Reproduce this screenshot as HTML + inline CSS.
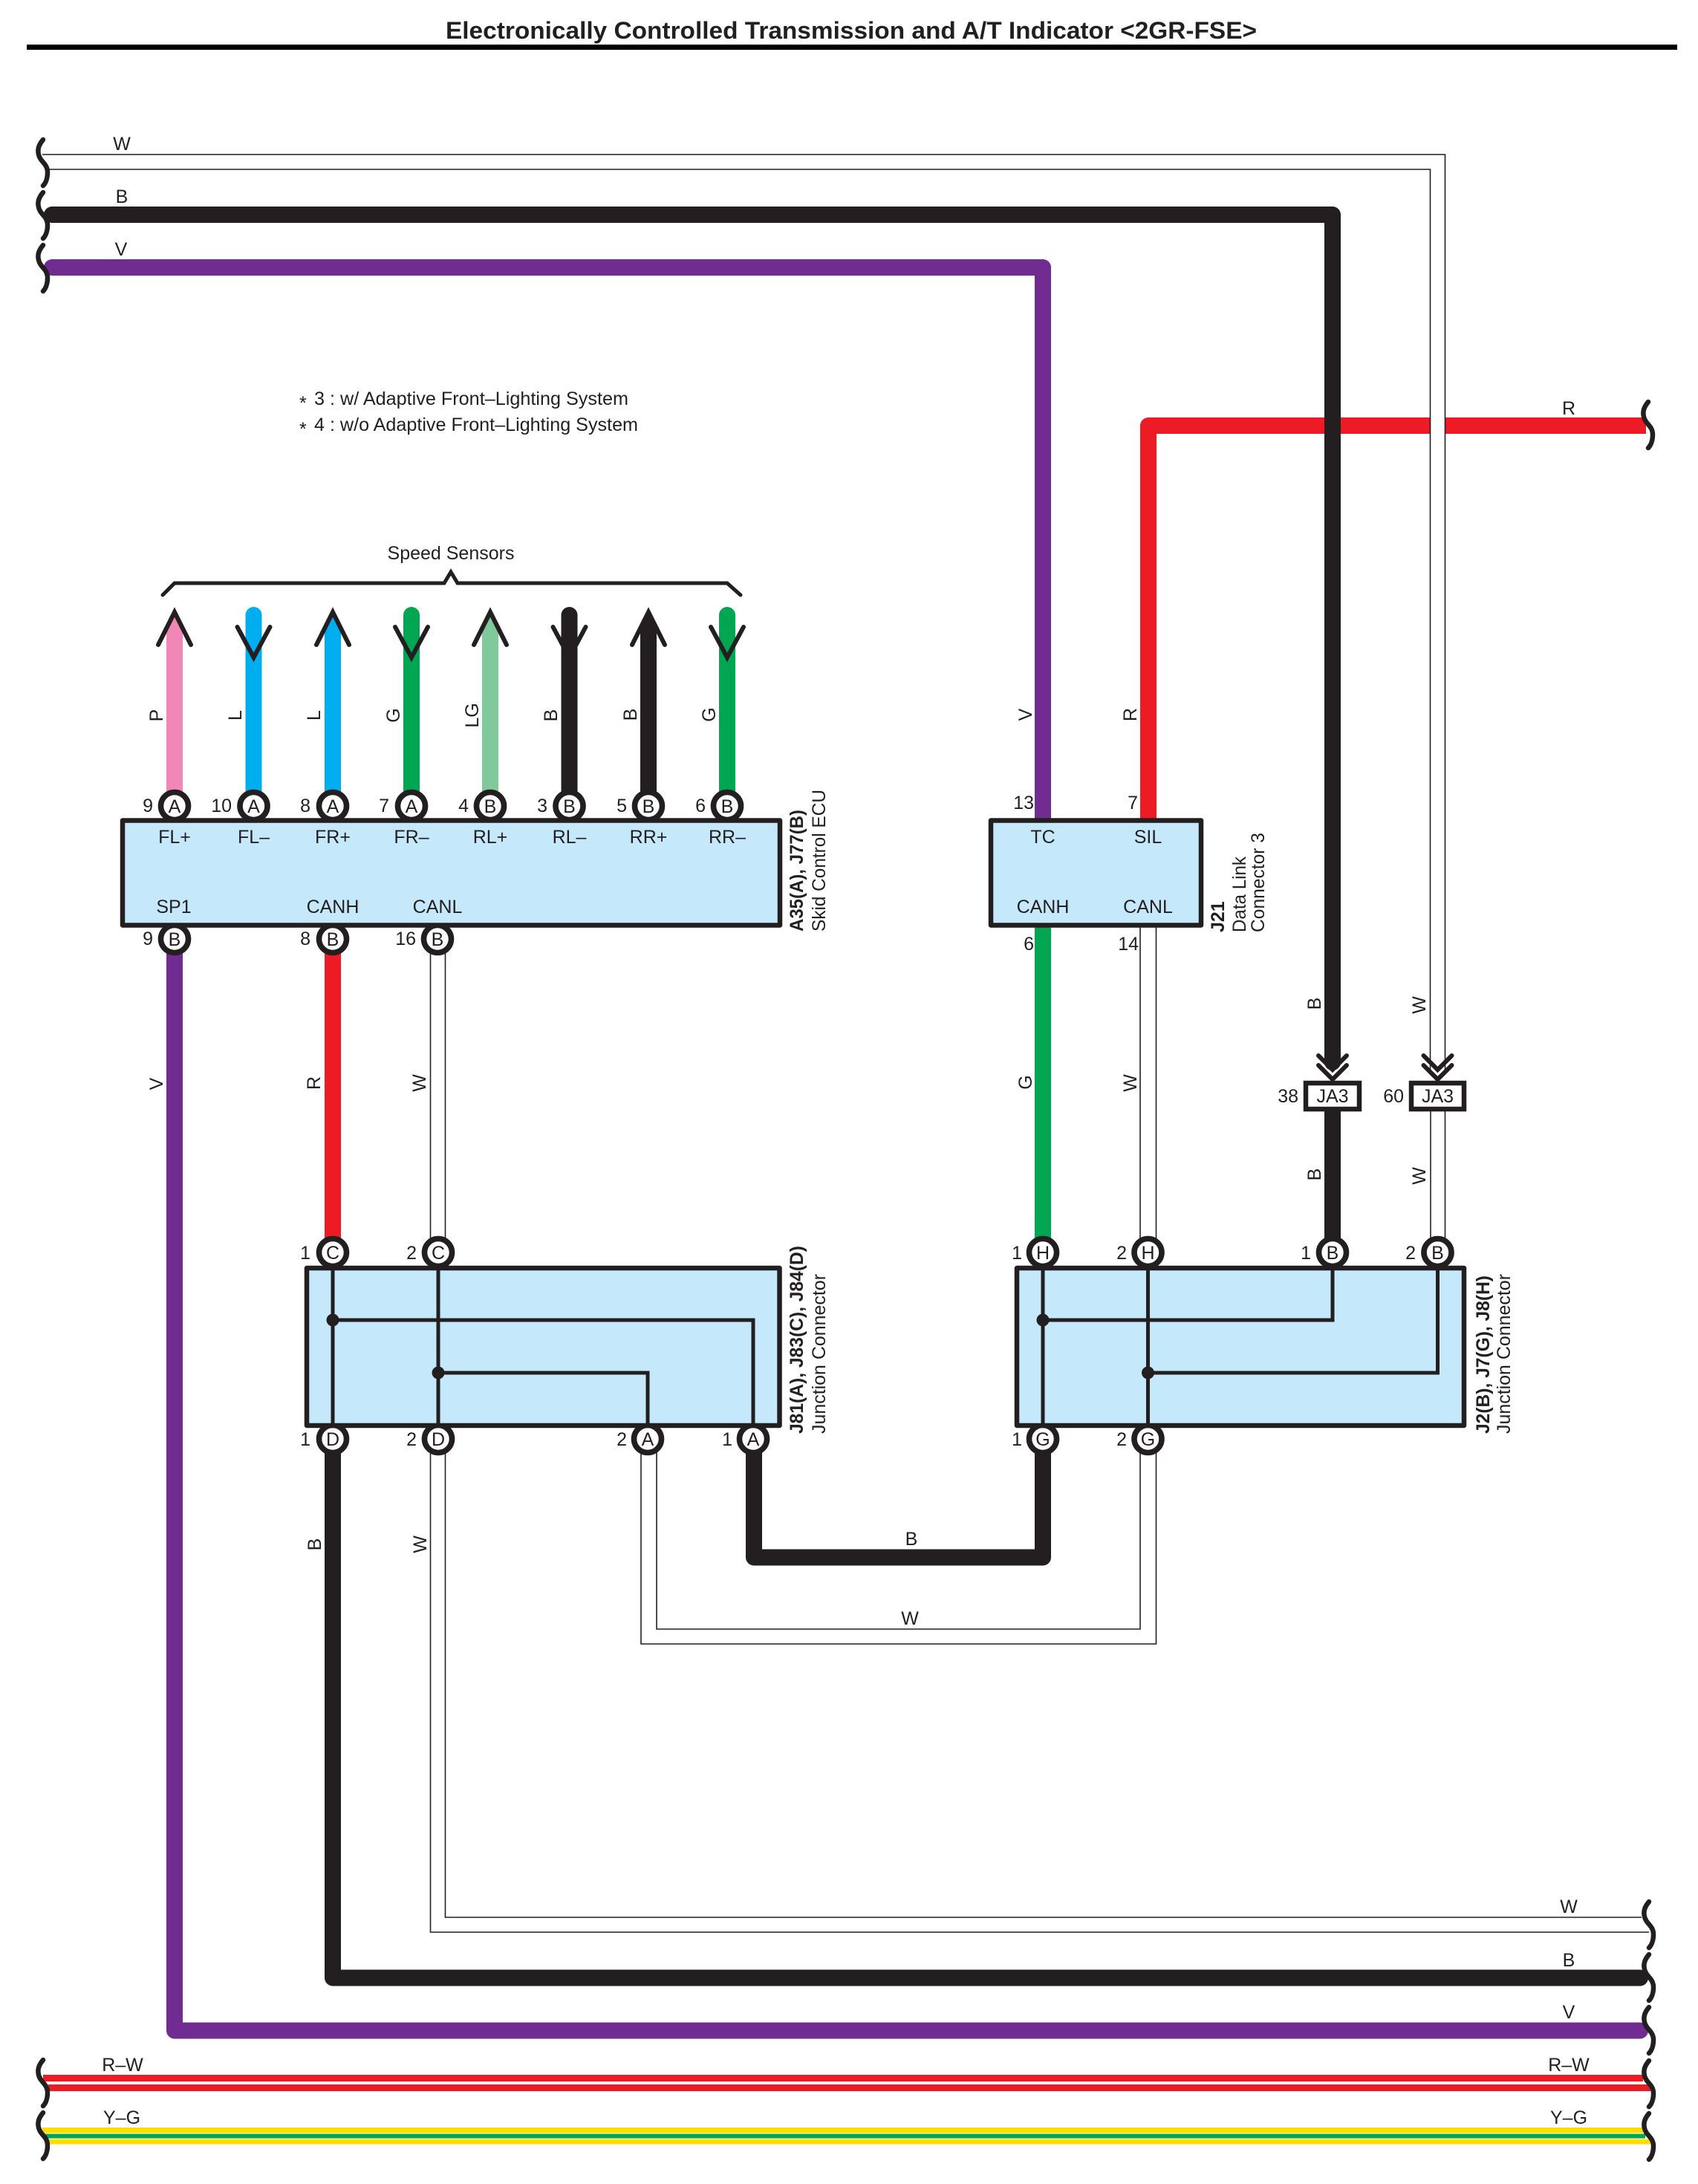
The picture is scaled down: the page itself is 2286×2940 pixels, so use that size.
<!DOCTYPE html>
<html><head><meta charset="utf-8"><title>Electronically Controlled Transmission and A/T Indicator</title>
<style>
html,body{margin:0;padding:0;background:#fff}
svg{display:block}
text{font-family:"Liberation Sans",sans-serif;font-size:25px;fill:#231f20}
.m{text-anchor:middle}.e{text-anchor:end}
.b{font-weight:bold}
.w{fill:none;stroke-linejoin:round;stroke-width:22}
.t{fill:none;stroke:#231f20;stroke-width:1.6}
.h{fill:none;stroke:#fff;stroke-width:19}
.c{fill:#fff;stroke:#231f20;stroke-width:7.6}
.x{fill:#c6e8fb;stroke:#231f20;stroke-width:6.5;stroke-linejoin:round}
.i{fill:none;stroke:#231f20;stroke-width:5}
.a{fill:none;stroke:#231f20;stroke-width:6;stroke-linecap:round;stroke-linejoin:miter;stroke-miterlimit:8}
.q{fill:none;stroke:#231f20;stroke-width:6.5;stroke-linecap:round}
</style></head><body>
<svg xmlns="http://www.w3.org/2000/svg" width="2286" height="2940" viewBox="0 0 2286 2940">
<defs><path id="sq" class="q" d="M58,3 C53,9 50,15 52,23 C54,33 64,35 64,47 C64,54 62,61 58,65"/></defs>
<rect width="2286" height="2940" fill="#fff"/>

<text class="b" x="600" y="52" style="font-size:32px" textLength="1092" lengthAdjust="spacingAndGlyphs">Electronically Controlled Transmission and A/T Indicator &lt;2GR-FSE&gt;</text>
<rect x="36" y="60" width="2222" height="7" fill="#000"/>

<!-- note -->
<text x="403" y="551">*</text>
<text x="423" y="545" textLength="423" lengthAdjust="spacingAndGlyphs">3 : w/ Adaptive Front–Lighting System</text>
<text x="403" y="586">*</text>
<text x="423" y="580" textLength="436" lengthAdjust="spacingAndGlyphs">4 : w/o Adaptive Front–Lighting System</text>

<!-- top wires -->
<path class="w" stroke="#ed1c24" d="M1546 1104V573H2216" stroke-linecap="butt"/>
<path class="w" stroke="#231f20" stroke-linecap="round" d="M70 289H1794V1430"/>
<path class="w" stroke="#702c91" stroke-linecap="round" d="M70 360H1404V1100"/>
<path class="h" d="M60 218H1935.5V1440"/>
<path class="t" d="M57 208H1945.5V1440"/>
<path class="t" d="M64 228H1925.5V1440"/>

<!-- left lower / bottom wires -->
<path class="w" stroke="#702c91" d="M235 1280V2733.5H2208" stroke-linecap="butt"/>
<path class="w" stroke="#231f20" d="M448 1950V2662.5H2208" stroke-linecap="butt"/>
<path d="M2208 2651.5h0a11 11 0 0 1 0 22z" fill="#231f20"/>
<path d="M2208 2722.5h0a11 11 0 0 1 0 22z" fill="#702c91"/>
<path class="t" d="M579.5 1950V2601H2220"/>
<path class="t" d="M599.5 1950V2581H2210"/>
<path class="w" stroke="#ed1c24" d="M448 1280V1670" stroke-linecap="butt"/>
<path class="t" d="M579.5 1280V1670"/>
<path class="t" d="M599.5 1280V1670"/>

<!-- R-W, Y-G -->
<rect x="58" y="2793" width="2154" height="9" fill="#ed1c24"/>
<rect x="65" y="2806" width="2157" height="9" fill="#ed1c24"/>
<rect x="57" y="2864" width="2155" height="7.5" fill="#ffdd00"/>
<rect x="60" y="2872.5" width="2155" height="6" fill="#00a651"/>
<rect x="65" y="2879.5" width="2157" height="7" fill="#ffdd00"/>

<!-- speed sensor wires -->
<g>
<path d="M224 1070V848L235 826L246 848V1070Z" fill="#f287b7"/>
<path class="w" stroke="#00aeef" stroke-linecap="round" d="M341.5 828V1070"/>
<path d="M437 1070V848L448 826L459 848V1070Z" fill="#00aeef"/>
<path class="w" stroke="#00a651" stroke-linecap="round" d="M554 828V1070"/>
<path d="M649 1070V848L660 826L671 848V1070Z" fill="#7fc99b"/>
<path class="w" stroke="#231f20" stroke-linecap="round" d="M766.5 828V1070"/>
<path d="M862 1070V848L873 826L884 848V1070Z" fill="#231f20"/>
<path class="w" stroke="#00a651" stroke-linecap="round" d="M979 828V1070"/>
</g>
<path class="a" d="M213 868L235 824L257 868"/>
<path class="a" d="M319.5 844L341.5 885L363.5 844"/>
<path class="a" d="M426 868L448 824L470 868"/>
<path class="a" d="M532 844L554 885L576 844"/>
<path class="a" d="M638 868L660 824L682 868"/>
<path class="a" d="M744.5 844L766.5 885L788.5 844"/>
<path class="a" d="M851 868L873 824L895 868"/>
<path class="a" d="M957 844L979 885L1001 844"/>
<path class="a" d="M219 801L235 785H598L607 770L616 785H979L997 801" style="stroke-width:5;stroke-miterlimit:4"/>
<text class="m" x="607" y="753">Speed Sensors</text>

<!-- DLC to junction -->
<path class="w" stroke="#00a651" d="M1404 1246V1670"/>
<path class="t" d="M1535 1246V1670"/>
<path class="t" d="M1556.5 1246V1670"/>
<path class="w" stroke="#231f20" d="M1794 1490V1670"/>
<path class="t" d="M1926 1490V1670"/>
<path class="t" d="M1945.5 1490V1670"/>

<!-- center loops -->
<path class="w" stroke="#231f20" stroke-linecap="butt" d="M1015 1950V2096.5H1404V1950"/>
<path class="t" d="M884 1950V2193H1535V1950"/>
<path class="t" d="M863 1950V2213H1556.5V1950"/>

<!-- chevrons -->
<path class="a" d="M1775 1421L1794 1440L1813 1421"/>
<path class="a" d="M1775 1434L1794 1453L1813 1434"/>
<path class="a" d="M1916.5 1421L1935.5 1440L1954.5 1421"/>
<path class="a" d="M1916.5 1434L1935.5 1453L1954.5 1434"/>
<rect x="1758" y="1458" width="72" height="35" fill="#fff" stroke="#231f20" stroke-width="6.5"/>
<rect x="1900" y="1458" width="71" height="35" fill="#fff" stroke="#231f20" stroke-width="6.5"/>
<text class="m" x="1794" y="1484">JA3</text>
<text class="m" x="1935.5" y="1484">JA3</text>
<text class="e" x="1748" y="1484">38</text>
<text class="e" x="1890" y="1484">60</text>

<!-- circles -->
<g>
<circle class="c" cx="235" cy="1085" r="18.5"/><circle class="c" cx="341.5" cy="1085" r="18.5"/><circle class="c" cx="448" cy="1085" r="18.5"/><circle class="c" cx="554" cy="1085" r="18.5"/><circle class="c" cx="660" cy="1085" r="18.5"/><circle class="c" cx="766.5" cy="1085" r="18.5"/><circle class="c" cx="873" cy="1085" r="18.5"/><circle class="c" cx="979" cy="1085" r="18.5"/>
<circle class="c" cx="235" cy="1264" r="18.5"/><circle class="c" cx="448" cy="1264" r="18.5"/><circle class="c" cx="589" cy="1264" r="18.5"/>
<circle class="c" cx="448" cy="1686" r="18.5"/><circle class="c" cx="590" cy="1686" r="18.5"/><circle class="c" cx="1404" cy="1686" r="18.5"/><circle class="c" cx="1545.5" cy="1686" r="18.5"/><circle class="c" cx="1794" cy="1686" r="18.5"/><circle class="c" cx="1935.5" cy="1686" r="18.5"/>
<circle class="c" cx="448" cy="1937" r="18.5"/><circle class="c" cx="590" cy="1937" r="18.5"/><circle class="c" cx="872" cy="1937" r="18.5"/><circle class="c" cx="1014" cy="1937" r="18.5"/><circle class="c" cx="1404" cy="1937" r="18.5"/><circle class="c" cx="1545.5" cy="1937" r="18.5"/>
</g>

<!-- boxes -->
<rect class="x" x="165" y="1104.5" width="885" height="141"/>
<rect class="x" x="1334" y="1104.5" width="283" height="141"/>
<rect class="x" x="413" y="1707" width="636.5" height="212"/>
<rect class="x" x="1369" y="1707" width="602" height="212"/>

<!-- junction internals -->
<path class="i" d="M448 1707V1919M590 1707V1919M448 1777H1014V1919M590 1848H872V1919"/>
<path class="i" d="M1404 1707V1919M1545.5 1707V1919M1404 1777H1794V1707M1545.5 1848H1935.5V1707"/>
<circle cx="448" cy="1777" r="8.5" fill="#231f20"/><circle cx="590" cy="1848" r="8.5" fill="#231f20"/>
<circle cx="1404" cy="1777" r="8.5" fill="#231f20"/><circle cx="1545.5" cy="1848" r="8.5" fill="#231f20"/>

<!-- circle letters -->
<g>
<text class="m" x="235" y="1094">A</text><text class="m" x="341.5" y="1094">A</text><text class="m" x="448" y="1094">A</text><text class="m" x="554" y="1094">A</text><text class="m" x="660" y="1094">B</text><text class="m" x="766.5" y="1094">B</text><text class="m" x="873" y="1094">B</text><text class="m" x="979" y="1094">B</text>
<text class="m" x="235" y="1273">B</text><text class="m" x="448" y="1273">B</text><text class="m" x="589" y="1273">B</text>
<text class="m" x="448" y="1695">C</text><text class="m" x="590" y="1695">C</text><text class="m" x="1404" y="1695">H</text><text class="m" x="1545.5" y="1695">H</text><text class="m" x="1794" y="1695">B</text><text class="m" x="1935.5" y="1695">B</text>
<text class="m" x="448" y="1946">D</text><text class="m" x="590" y="1946">D</text><text class="m" x="872" y="1946">A</text><text class="m" x="1014" y="1946">A</text><text class="m" x="1404" y="1946">G</text><text class="m" x="1545.5" y="1946">G</text>
</g>

<!-- pin numbers -->
<text class="e" x="206" y="1093">9</text><text class="e" x="312" y="1093">10</text><text class="e" x="418" y="1093">8</text><text class="e" x="524" y="1093">7</text><text class="e" x="631" y="1093">4</text><text class="e" x="737" y="1093">3</text><text class="e" x="844" y="1093">5</text><text class="e" x="950" y="1093">6</text>
<text class="e" x="206" y="1272">9</text><text class="e" x="418" y="1272">8</text><text class="e" x="560" y="1272">16</text>
<text class="e" x="1392" y="1089">13</text><text class="e" x="1532" y="1089">7</text><text class="e" x="1392" y="1279">6</text><text class="e" x="1533" y="1279">14</text>
<text class="e" x="418" y="1695">1</text><text class="e" x="561" y="1695">2</text><text class="e" x="1376" y="1695">1</text><text class="e" x="1517" y="1695">2</text><text class="e" x="1765" y="1695">1</text><text class="e" x="1906" y="1695">2</text>
<text class="e" x="418" y="1946">1</text><text class="e" x="561" y="1946">2</text><text class="e" x="844" y="1946">2</text><text class="e" x="986" y="1946">1</text><text class="e" x="1376" y="1946">1</text><text class="e" x="1517" y="1946">2</text>

<!-- box labels -->
<text class="m" x="235" y="1135">FL+</text><text class="m" x="341.5" y="1135">FL–</text><text class="m" x="448" y="1135">FR+</text><text class="m" x="554" y="1135">FR–</text><text class="m" x="660" y="1135">RL+</text><text class="m" x="766.5" y="1135">RL–</text><text class="m" x="873" y="1135">RR+</text><text class="m" x="979" y="1135">RR–</text>
<text class="m" x="234" y="1229">SP1</text><text class="m" x="448" y="1229">CANH</text><text class="m" x="589" y="1229">CANL</text>
<text class="m" x="1404" y="1135">TC</text><text class="m" x="1545.5" y="1135">SIL</text><text class="m" x="1404" y="1229">CANH</text><text class="m" x="1545.5" y="1229">CANL</text>

<!-- rotated component labels -->
<text class="b" transform="translate(1081,1254) rotate(-90)" textLength="164" lengthAdjust="spacingAndGlyphs">A35(A), J77(B)</text>
<text transform="translate(1111,1254) rotate(-90)" textLength="191" lengthAdjust="spacingAndGlyphs">Skid Control ECU</text>
<text class="b" transform="translate(1648,1255) rotate(-90)">J21</text>
<text transform="translate(1677,1255) rotate(-90)" textLength="102" lengthAdjust="spacingAndGlyphs">Data Link</text>
<text transform="translate(1702,1255) rotate(-90)" textLength="134" lengthAdjust="spacingAndGlyphs">Connector 3</text>
<text class="b" transform="translate(1081,1930) rotate(-90)" textLength="253" lengthAdjust="spacingAndGlyphs">J81(A), J83(C), J84(D)</text>
<text transform="translate(1111,1930) rotate(-90)" textLength="215" lengthAdjust="spacingAndGlyphs">Junction Connector</text>
<text class="b" transform="translate(2005,1930) rotate(-90)" textLength="213" lengthAdjust="spacingAndGlyphs">J2(B), J7(G), J8(H)</text>
<text transform="translate(2033,1930) rotate(-90)" textLength="215" lengthAdjust="spacingAndGlyphs">Junction Connector</text>

<!-- rotated wire labels -->
<g>
<text class="m" transform="translate(219,963) rotate(-90)">P</text>
<text class="m" transform="translate(325,963) rotate(-90)">L</text>
<text class="m" transform="translate(431,963) rotate(-90)">L</text>
<text class="m" transform="translate(538,963) rotate(-90)">G</text>
<text class="m" transform="translate(644,963) rotate(-90)">LG</text>
<text class="m" transform="translate(750,963) rotate(-90)">B</text>
<text class="m" transform="translate(857,962) rotate(-90)">B</text>
<text class="m" transform="translate(963,962) rotate(-90)">G</text>
<text class="m" transform="translate(1389,962) rotate(-90)">V</text>
<text class="m" transform="translate(1530,962) rotate(-90)">R</text>
<text class="m" transform="translate(219,1459) rotate(-90)">V</text>
<text class="m" transform="translate(431,1458) rotate(-90)">R</text>
<text class="m" transform="translate(573,1458) rotate(-90)">W</text>
<text class="m" transform="translate(1389,1457) rotate(-90)">G</text>
<text class="m" transform="translate(1530,1458) rotate(-90)">W</text>
<text class="m" transform="translate(1778,1351) rotate(-90)">B</text>
<text class="m" transform="translate(1919,1353) rotate(-90)">W</text>
<text class="m" transform="translate(1778,1581) rotate(-90)">B</text>
<text class="m" transform="translate(1919,1583) rotate(-90)">W</text>
<text class="m" transform="translate(432,2079) rotate(-90)">B</text>
<text class="m" transform="translate(574,2079) rotate(-90)">W</text>
</g>

<!-- horizontal wire labels -->
<text class="m" x="164" y="202">W</text><text class="m" x="164" y="273">B</text><text class="m" x="163" y="344">V</text>
<text class="m" x="2112" y="558">R</text>
<text class="m" x="1227" y="2080">B</text><text class="m" x="1225" y="2187">W</text>
<text class="m" x="2112" y="2575">W</text><text class="m" x="2112" y="2647">B</text><text class="m" x="2112" y="2717">V</text>
<text class="m" x="2112" y="2788">R–W</text><text class="m" x="2112" y="2859">Y–G</text>
<text class="m" x="165" y="2788">R–W</text><text class="m" x="164" y="2859">Y–G</text>

<!-- squiggles -->
<use href="#sq" x="0" y="185"/><use href="#sq" x="0" y="256"/><use href="#sq" x="0" y="327"/>
<use href="#sq" x="0" y="2770"/><use href="#sq" x="0" y="2841"/>
<use href="#sq" x="2161" y="538"/>
<use href="#sq" x="2162" y="2557"/><use href="#sq" x="2162" y="2628"/><use href="#sq" x="2162" y="2699"/><use href="#sq" x="2162" y="2771"/><use href="#sq" x="2162" y="2842"/>
</svg>
</body></html>
